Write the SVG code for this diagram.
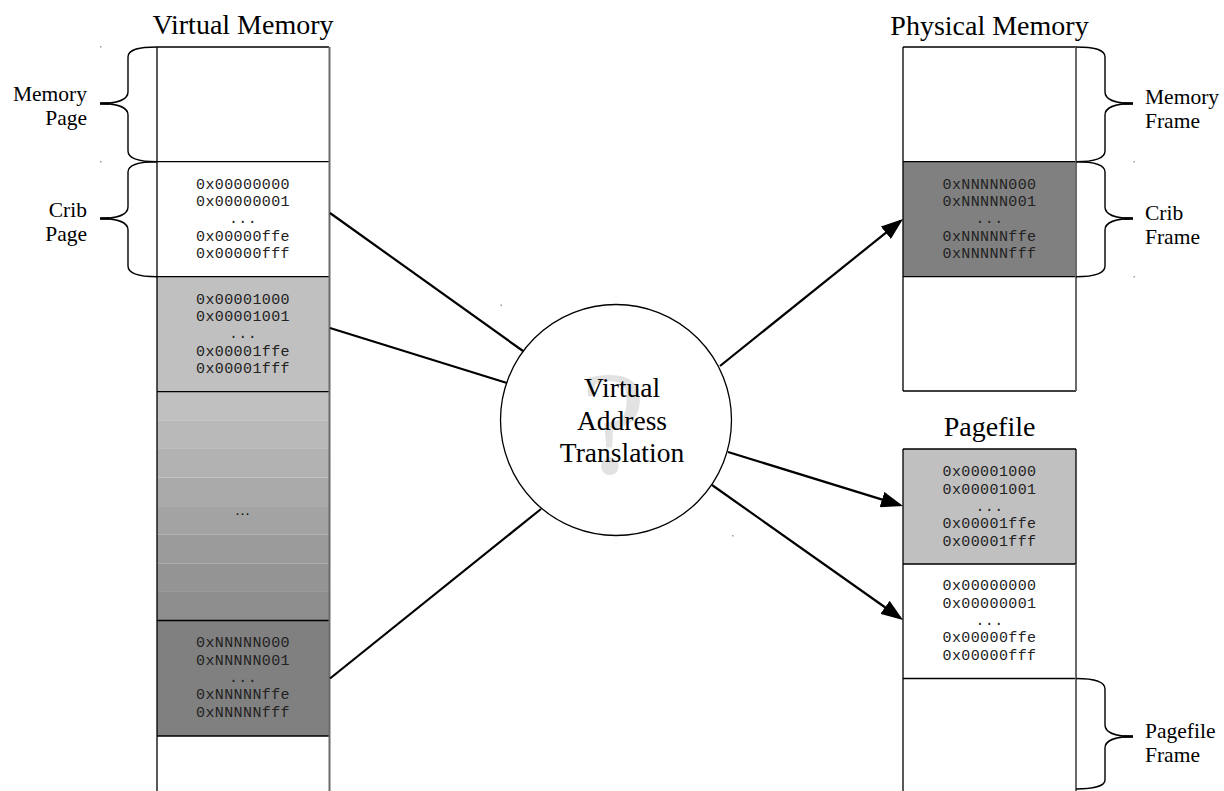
<svg xmlns="http://www.w3.org/2000/svg" width="1224" height="791" viewBox="0 0 1224 791">
<style>
.title{font-family:"Liberation Serif",serif;font-size:28px;fill:#000;text-anchor:middle}
.lbl{font-family:"Liberation Serif",serif;font-size:21.5px;fill:#000}
.lblr{text-anchor:end}
.mono{font-family:"Liberation Mono","DejaVu Sans Mono",monospace;font-size:15px;letter-spacing:0.4px;fill:#222;text-anchor:middle}
.edge{stroke:#000;stroke-width:1.3;fill:none}
.redge{stroke:#6a6a6a;stroke-width:2;fill:none}
.brace{stroke:#000;stroke-width:1.4;fill:none}
.tick{stroke:#000;stroke-width:2.6}
.conn{stroke:#000;stroke-width:2.2;fill:none}
.dot{fill:#9a9a9a}
</style>
<defs>
<marker id="ah" viewBox="0 0 22 16" refX="19" refY="8" markerWidth="22" markerHeight="16" markerUnits="userSpaceOnUse" orient="auto">
<path d="M0,0 L22,8 L0,16 z" fill="#000"/>
</marker>
</defs>
<rect width="1224" height="791" fill="#fff"/>

<g id="virtual-memory">
<text class="title" x="243" y="34">Virtual Memory</text>
<rect x="157" y="47" width="172" height="114.7" fill="#fff"/>
<rect x="157" y="161.7" width="172" height="115" fill="#fff"/>
<rect x="157" y="276.7" width="172" height="115" fill="#c0c0c0"/>
<rect x="157" y="391.7" width="172" height="28.6" fill="#c0c0c0"/>
<rect x="157" y="420.3" width="172" height="28.6" fill="#b9b9b9"/>
<rect x="157" y="448.9" width="172" height="28.6" fill="#b2b2b2"/>
<rect x="157" y="477.5" width="172" height="28.6" fill="#aaaaaa"/>
<rect x="157" y="506.1" width="172" height="28.6" fill="#a3a3a3"/>
<rect x="157" y="534.7" width="172" height="28.6" fill="#9b9b9b"/>
<rect x="157" y="563.3" width="172" height="28.6" fill="#949494"/>
<rect x="157" y="591.9" width="172" height="28.6" fill="#8d8d8d"/>
<rect x="157" y="620.5" width="172" height="115.5" fill="#808080"/>
<rect x="157" y="736" width="172" height="55" fill="#fff"/>
<path class="edge" d="M157,47 V791 M157,47 H329 M157,161.7 H329 M157,276.7 H329 M157,391.7 H329 M157,620.5 H329 M157,736 H329"/>
<path class="redge" d="M329.5,47 V791"/>
<g class="mono">
<text x="243" y="188.5">0x00000000</text>
<text x="243" y="206">0x00000001</text>
<text x="243" y="223">...</text>
<text x="243" y="240.5">0x00000ffe</text>
<text x="243" y="258">0x00000fff</text>
<text x="243" y="303.5">0x00001000</text>
<text x="243" y="321">0x00001001</text>
<text x="243" y="338">...</text>
<text x="243" y="355.5">0x00001ffe</text>
<text x="243" y="373">0x00001fff</text>
<text x="243" y="647">0xNNNNN000</text>
<text x="243" y="664.5">0xNNNNN001</text>
<text x="243" y="681.5">...</text>
<text x="243" y="699">0xNNNNNffe</text>
<text x="243" y="716.5">0xNNNNNfff</text>
</g>
<text x="242.5" y="515" style="font-family:'Liberation Serif',serif;font-size:15px;fill:#111;text-anchor:middle">…</text>
</g>

<g id="brace-memory-page">
<path class="brace" d="M157,47 C140,47 128,49 128,57 L128,92 C128,100 116,103.5 100,103.5 C116,103.5 128,107 128,115 L128,151 C128,159 140,161.7 157,161.7"/>
<line class="tick" x1="100" y1="103.5" x2="109" y2="103.5"/>
<text class="lbl lblr" x="87" y="101">Memory</text>
<text class="lbl lblr" x="87" y="125">Page</text>
</g>
<g id="brace-crib-page">
<path class="brace" d="M157,161.7 C140,161.7 128,164 128,172 L128,207 C128,215 116,218.5 100,218.5 C116,218.5 128,222 128,230 L128,266 C128,274 140,276.7 157,276.7"/>
<line class="tick" x1="100" y1="218.5" x2="109" y2="218.5"/>
<text class="lbl lblr" x="87" y="217">Crib</text>
<text class="lbl lblr" x="87" y="240.5">Page</text>
</g>

<g id="physical-memory">
<text class="title" x="989.5" y="35">Physical Memory</text>
<rect x="903" y="47" width="173" height="114.7" fill="#fff"/>
<rect x="903" y="161.7" width="173" height="115" fill="#808080"/>
<rect x="903" y="276.7" width="173" height="114.3" fill="#fff"/>
<path class="edge" d="M903,47 V391 M903,47 H1076 M903,161.7 H1076 M903,276.7 H1076 M903,391 H1076"/>
<path class="redge" d="M1076,47 V391"/>
<g class="mono">
<text x="989.5" y="188.5">0xNNNNN000</text>
<text x="989.5" y="206">0xNNNNN001</text>
<text x="989.5" y="223">...</text>
<text x="989.5" y="240.5">0xNNNNNffe</text>
<text x="989.5" y="258">0xNNNNNfff</text>
</g>
</g>
<g id="brace-memory-frame">
<path class="brace" d="M1076,47 C1093,47 1105,49 1105,57 L1105,92 C1105,100 1117,103.5 1133,103.5 C1117,103.5 1105,107 1105,115 L1105,151 C1105,159 1093,161.7 1076,161.7"/>
<line class="tick" x1="1124" y1="103.5" x2="1133" y2="103.5"/>
<text class="lbl" x="1145" y="103.5">Memory</text>
<text class="lbl" x="1145" y="128">Frame</text>
</g>
<g id="brace-crib-frame">
<path class="brace" d="M1076,161.7 C1093,161.7 1105,164 1105,172 L1105,207 C1105,215 1117,218.5 1133,218.5 C1117,218.5 1105,222 1105,230 L1105,266 C1105,274 1093,276.7 1076,276.7"/>
<line class="tick" x1="1124" y1="218.5" x2="1133" y2="218.5"/>
<text class="lbl" x="1145" y="220">Crib</text>
<text class="lbl" x="1145" y="244">Frame</text>
</g>

<g id="pagefile">
<text class="title" x="989.5" y="436">Pagefile</text>
<rect x="903" y="449" width="173" height="115" fill="#c0c0c0"/>
<rect x="903" y="564" width="173" height="114.5" fill="#fff"/>
<rect x="903" y="678.5" width="173" height="112.5" fill="#fff"/>
<path class="edge" d="M903,449 V791 M903,449 H1076 M903,564 H1076 M903,678.5 H1076 M1076,449 V564"/>
<path class="redge" d="M1076,564 V791"/>
<g class="mono">
<text x="989.5" y="476">0x00001000</text>
<text x="989.5" y="493.5">0x00001001</text>
<text x="989.5" y="510.5">...</text>
<text x="989.5" y="528">0x00001ffe</text>
<text x="989.5" y="545.5">0x00001fff</text>
<text x="989.5" y="590">0x00000000</text>
<text x="989.5" y="607.5">0x00000001</text>
<text x="989.5" y="624.5">...</text>
<text x="989.5" y="642">0x00000ffe</text>
<text x="989.5" y="659.5">0x00000fff</text>
</g>
</g>
<g id="brace-pagefile-frame">
<path class="brace" d="M1076,678.5 C1093,678.5 1105,681 1105,689 L1105,725 C1105,733 1117,736.5 1133,736.5 C1117,736.5 1105,740 1105,748 L1105,780 C1105,786 1093,789 1076,789"/>
<line class="tick" x1="1124" y1="736.5" x2="1133" y2="736.5"/>
<text class="lbl" x="1145" y="737.5">Pagefile</text>
<text class="lbl" x="1145" y="762">Frame</text>
</g>

<g id="translation">
<circle cx="616" cy="420" r="115.5" fill="#fff" stroke="#000" stroke-width="1.3"/>
<text x="613" y="473" style="font-family:'Liberation Serif',serif;font-size:148px;fill:#e2e2e2;text-anchor:middle">?</text>
<g style="font-family:'Liberation Serif',serif;font-size:27.5px;fill:#000;text-anchor:middle">
<text x="622" y="397">Virtual</text>
<text x="622" y="429.5">Address</text>
<text x="622" y="462">Translation</text>
</g>
</g>

<g id="connectors">
<line class="conn" x1="330" y1="213" x2="523" y2="351"/>
<line class="conn" x1="330" y1="328" x2="507" y2="383"/>
<line class="conn" x1="330" y1="678.5" x2="541" y2="509"/>
<line class="conn" x1="720" y1="366" x2="900.66" y2="220.88" marker-end="url(#ah)"/>
<line class="conn" x1="728" y1="452" x2="900.13" y2="505.12" marker-end="url(#ah)"/>
<line class="conn" x1="712" y1="485" x2="900.55" y2="618.27" marker-end="url(#ah)"/>
</g>

<g id="specks">
<rect class="dot" x="100" y="46" width="1.5" height="1.5"/>
<rect class="dot" x="100" y="161" width="1.5" height="1.5"/>
<rect class="dot" x="1133.5" y="161" width="1.5" height="1.5"/>
<rect class="dot" x="1133.5" y="276" width="1.5" height="1.5"/>
<rect class="dot" x="500.5" y="304.5" width="1.5" height="1.5"/>
<rect class="dot" x="732" y="535" width="1.5" height="1.5"/>
</g>
</svg>
